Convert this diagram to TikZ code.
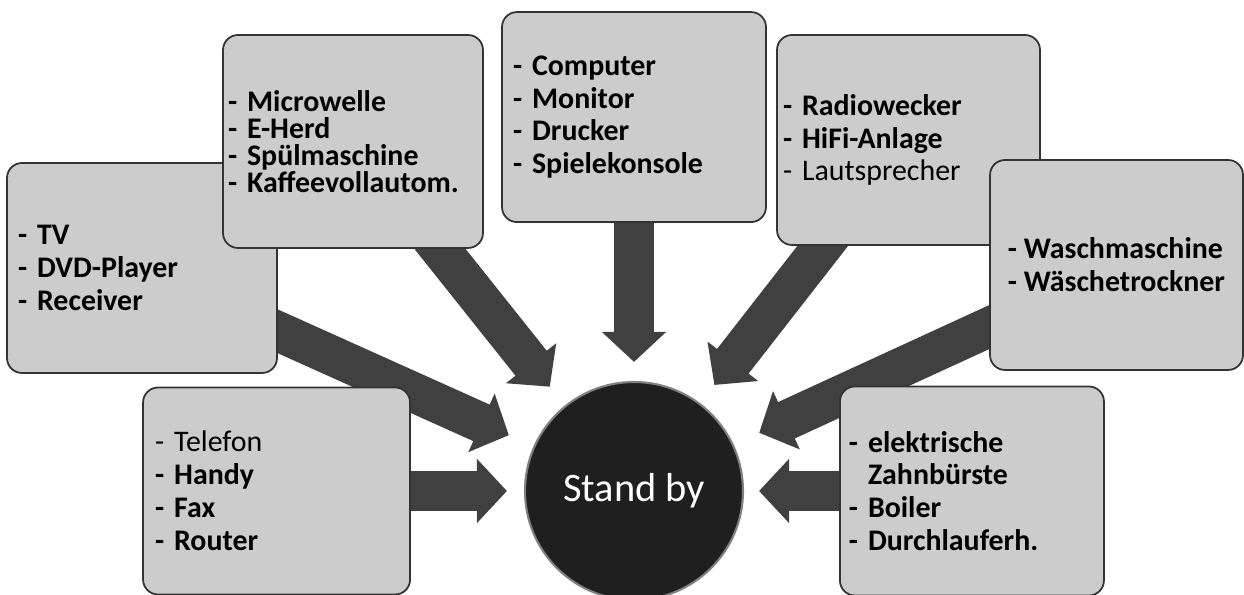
\documentclass[tikz,border=0pt]{standalone}
\usepackage{fontspec}
\setmainfont{Carlito}
\usetikzlibrary{arrows.meta,backgrounds,positioning}

\begin{document}
\begin{tikzpicture}[node distance=2cm]
  \tikzstyle{device box} = [draw=black!80,fill=black!20,line width=1pt,rounded corners=0.3cm,rectangle,minimum height=4.2cm,inner xsep=0pt,align=left,font=\bfseries\fontsize{17}{18.7}\selectfont]
  \tikzstyle{block arrow} = [draw=black!75,line width=0.8cm,-{Triangle[length=0.6cm,width=1.25cm]},shorten <=-0.3cm]
  \useasboundingbox (0,0) rectangle (24.88,11.9);

  \node [circle,fill=black!88,draw=black!50,line width=1.2pt,minimum size=4.36cm,text=white,font=\fontsize{23}{27}\selectfont] (standby) at (12.68,2.08) {Stand by};

  \node [device box,minimum width=5.28cm,text width=4.84cm,above=3.16cm of standby] (comp) {- Computer\\- Monitor\\- Drucker\\- Spielekonsole};
  \node [device box,minimum width=5.34cm,minimum height=4.14cm,text width=4.86cm,left=2.26cm of standby] (tel) {{\mdseries - Telefon}\\- Handy\\- Fax\\- Router};
  \node [device box,minimum width=5.28cm,minimum height=4.18cm,text width=4.92cm,right=1.9cm of standby] (elek) {- elektrische\\\phantom{- }Zahnbürste\\- Boiler\\- Durchlauferh.};
  \node [device box,minimum width=5.40cm,text width=4.96cm] (tv) at (2.84,6.54) {- TV\\- DVD-Player\\- Receiver};
  \node [device box,minimum width=5.20cm,minimum height=4.26cm,text width=5.00cm,font=\bfseries\fontsize{17}{15.4}\selectfont] (micro) at (7.06,9.07) {- Microwelle\\- E-Herd\\- Spülmaschine\\- Kaffeevollautom.};
  \node [device box,minimum width=5.26cm,text width=5.02cm] (radio) at (18.17,9.10) {- Radiowecker\\- HiFi-Anlage\\{\mdseries - Lautsprecher}};
  \node [device box,minimum width=5.06cm] (wasch) at (22.33,6.60) {- Waschmaschine\\- Wäschetrockner};

  \begin{pgfonlayer}{background}
    \draw [block arrow,shorten >=0.54cm] (tv.-25) -- (standby.156);
    \draw [block arrow,shorten >=0.48cm] (micro.-51) -- (standby.129);
    \draw [block arrow,shorten >=0.38cm] (comp) -- (standby);
    \draw [block arrow,shorten >=0.46cm] (radio.-129.5) -- (standby.53);
    \draw [block arrow,shorten >=0.56cm] (wasch.-154) -- (standby.25);
    \draw [block arrow,shorten >=0.34cm] (tel) -- (standby);
    \draw [block arrow,shorten >=0.30cm] (elek) -- (standby);
  \end{pgfonlayer}
\end{tikzpicture}
\end{document}
